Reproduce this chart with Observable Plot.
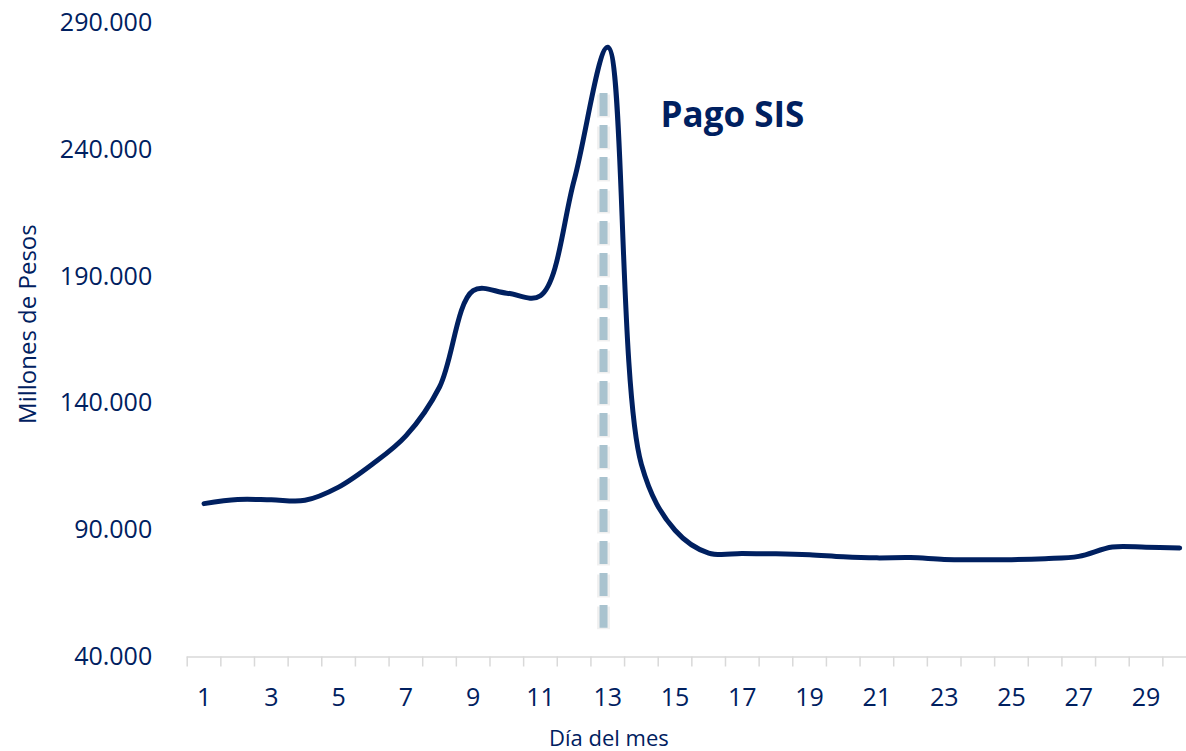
<!DOCTYPE html>
<html><head><meta charset="utf-8">
<script src="https://cdn.jsdelivr.net/npm/d3@7"></script>
<script src="https://cdn.jsdelivr.net/npm/@observablehq/plot@0.6"></script>
<style>html,body{margin:0;padding:0;background:#fff;overflow:hidden}</style>
</head><body><div id="chart"></div>
<script>
// Data
const days = d3.range(1, 31);
const values = [100500, 102100, 102000, 101800, 107000, 116000, 127200, 146500, 184500, 183500,
                182500, 228000, 280500, 116000, 90000, 81000, 80800, 80700, 80300, 79500,
                79100, 79200, 78500, 78400, 78400, 78800, 79700, 83400, 83300, 83000];
const yTicks = [40000, 90000, 140000, 190000, 240000, 290000];
const xLabels = [1, 3, 5, 7, 9, 11, 13, 15, 17, 19, 21, 23, 25, 27, 29];
const xBoundaries = d3.range(0.5, 31, 1);
const payDay = [{day: 12.875, from: 51300, to: 262250}];
const annotation = [{day: 14.57, value: 253600, text: "Pago SIS"}];
const yTitle = "Millones de Pesos";
const xTitle = "Día del mes";

const table = days.map((d, i) => ({day: d, value: values[i]}));
const navy = "#002060";
const fmt = d => d3.format(",")(d).replace(/,/g, ".");

const chart = Plot.plot({
  width: 1186, height: 751,
  marginLeft: 186.7, marginRight: 0, marginTop: 22.7, marginBottom: 94.5,
  style: {fontFamily: "'Open Sans', sans-serif", color: navy, background: "white", overflow: "visible"},
  x: {type: "linear", domain: [0.5, 30.5], range: [186.7, 1196]},
  y: {domain: [40000, 290000]},
  marks: [
    Plot.ruleY([40000], {stroke: "#d9d9d9", strokeWidth: 1.5}),
    Plot.axisX(xBoundaries, {tickSize: 10, tickFormat: () => "", stroke: "#d9d9d9", strokeWidth: 1.5, label: null}),
    Plot.axisX(xLabels, {tickSize: 0, tickPadding: 31, fontSize: 25, fill: navy, tickFormat: d => String(d), label: null}),
    Plot.axisY(yTicks, {tickSize: 0, tickPadding: 35, fontSize: 25, fill: navy, tickFormat: fmt, label: null}),
    Plot.ruleX(payDay, {x: "day", y1: "to", y2: "from", stroke: "#000", strokeOpacity: 0.06, strokeWidth: 13, strokeDasharray: "23,9", dy: 1.5}),
    Plot.ruleX(payDay, {x: "day", y1: "to", y2: "from", stroke: "#a9c3cf", strokeWidth: 8, strokeDasharray: "23,9"}),
    Plot.line(table, {x: "day", y: "value", curve: "catmull-rom", stroke: navy, strokeWidth: 5, strokeLinecap: "round"}),
    Plot.text(annotation, {x: "day", y: "value", text: "text", textAnchor: "start", fontSize: 35, fontWeight: "bold", fill: navy}),
    Plot.text([yTitle], {frameAnchor: "left", textAnchor: "middle", lineAnchor: "middle", rotate: -90, dx: -159, dy: -16, fontSize: 24, fill: navy}),
    Plot.text([xTitle], {frameAnchor: "bottom", textAnchor: "middle", dx: -78, dy: 89, fontSize: 22, fill: navy})
  ]
});
document.getElementById("chart").appendChild(chart);
</script>
</body></html>
